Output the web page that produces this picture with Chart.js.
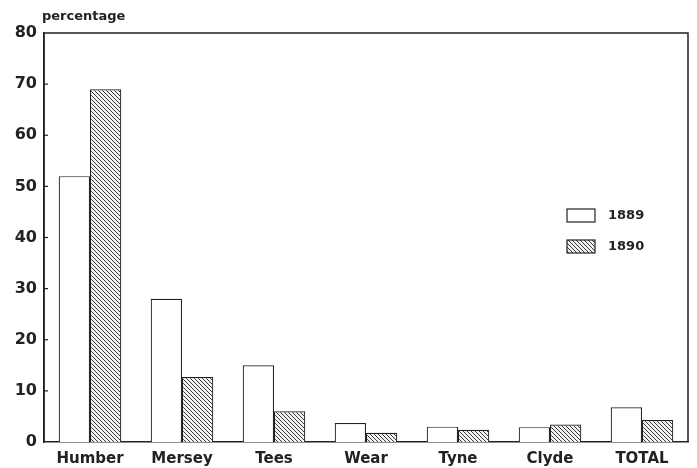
<!DOCTYPE html>
<html><head><meta charset="utf-8">
<script src="https://cdn.jsdelivr.net/npm/chart.js@4/dist/chart.umd.min.js"></script>
<style>html,body{margin:0;padding:0;background:#fff}#wrap{width:697px;height:468px}</style>
</head><body><div id="wrap"><canvas id="c" width="697" height="468"></canvas></div>
<script>
const categories = ["Humber","Mersey","Tees","Wear","Tyne","Clyde","TOTAL"];
const values1889 = [52, 28, 15, 3.7, 3, 2.9, 6.8];
const values1890 = [69, 12.7, 6, 1.8, 2.4, 3.4, 4.3];
const seriesLabels = ["1889","1890"];
const yTicks = [0,10,20,30,40,50,60,70,80];
const yTitle = "percentage";

function hatch(){
  const p = document.createElement('canvas'); p.width = 4; p.height = 4;
  const g = p.getContext('2d');
  g.fillStyle = '#f2f2f2'; g.fillRect(0,0,4,4);
  g.strokeStyle = '#3a3a3a'; g.lineWidth = 1;
  g.beginPath();
  g.moveTo(-1,-1); g.lineTo(5,5);
  g.moveTo(-1,3); g.lineTo(1,5);
  g.moveTo(3,-1); g.lineTo(5,1);
  g.stroke();
  return g.createPattern(p,'repeat');
}
const ctx0 = document.getElementById('c').getContext('2d');
const hatchFill = hatch();
const FONT = "'DejaVu Sans', 'Liberation Sans', Arial, sans-serif";

const decor = {
  id: 'decor',
  afterDraw(chart){
    const {ctx, chartArea:a, scales} = chart;
    ctx.save();
    ctx.strokeStyle = '#222'; ctx.lineWidth = 1.5;
    ctx.beginPath();
    ctx.moveTo(a.left, a.bottom); ctx.lineTo(a.left, a.top); ctx.lineTo(a.right, a.top); ctx.lineTo(a.right, a.bottom);
    ctx.stroke();
    ctx.lineWidth = 1.2;
    yTicks.forEach(v => {
      if (v === 0 || v === 80) return;
      const y = scales.y.getPixelForValue(v);
      ctx.beginPath(); ctx.moveTo(a.left, y); ctx.lineTo(a.left + 4, y); ctx.stroke();
    });
    ctx.fillStyle = '#222';
    ctx.font = "bold 13px " + FONT;
    ctx.textBaseline = 'middle'; ctx.textAlign = 'left';
    ctx.fillText(yTitle, 42, 17);
    const ds = chart.data.datasets;
    const ys = [209, 240];
    ds.forEach((d, i) => {
      ctx.fillStyle = d.backgroundColor;
      ctx.fillRect(567, ys[i], 28, 13);
      ctx.strokeStyle = '#222'; ctx.lineWidth = 1.2;
      ctx.strokeRect(567, ys[i], 28, 13);
      ctx.fillStyle = '#222';
      ctx.font = "bold 13px " + FONT;
      ctx.fillText(d.label, 608, ys[i] + 7);
    });
    ctx.restore();
  }
};

new Chart(document.getElementById('c'), {
  type: 'bar',
  data: {
    labels: categories,
    datasets: [
      {label: seriesLabels[0], data: values1889, backgroundColor: '#ffffff', borderColor: '#222', borderWidth: 1.2},
      {label: seriesLabels[1], data: values1890, backgroundColor: hatchFill, borderColor: '#222', borderWidth: 1.2}
    ]
  },
  options: {
    responsive: false,
    animation: false,
    layout: {padding: {top: 33, right: 9, left: 0, bottom: 0}},
    plugins: {legend: {display: false}, tooltip: {enabled: false}},
    datasets: {bar: {categoryPercentage: 0.68, barPercentage: 1.0}},
    scales: {
      x: {
        grid: {display: false, drawTicks: false},
        border: {display: true, color: '#222', width: 1.5},
        ticks: {color: '#222', font: {family: FONT, size: 15, weight: 'bold'}, padding: 8, maxRotation: 0},
        afterFit(s){ s.height = 26; }
      },
      y: {
        min: 0, max: 80,
        afterBuildTicks(s){ s.ticks = yTicks.map(v => ({value: v})); },
        grid: {display: false, drawTicks: false},
        border: {display: true, color: '#222', width: 1.5},
        ticks: {color: '#222', font: {family: FONT, size: 16, weight: 'bold'}, padding: 7},
        afterFit(s){ s.width = 44; }
      }
    }
  },
  plugins: [decor]
});
</script></body></html>
